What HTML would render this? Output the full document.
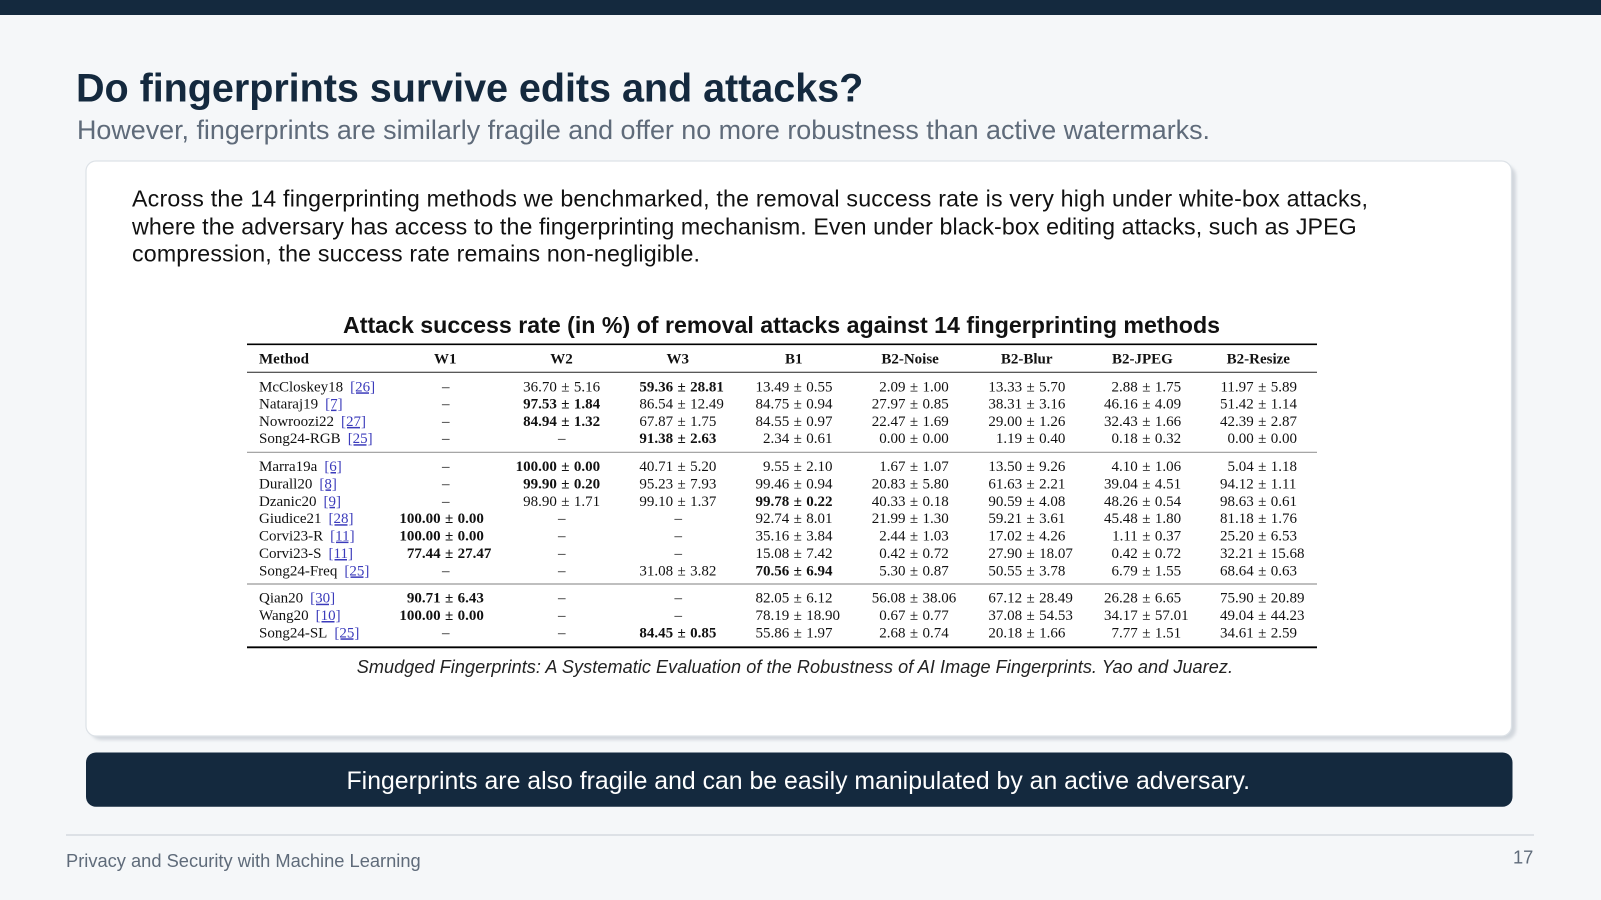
<!DOCTYPE html>
<html><head><meta charset="utf-8"><style>
html,body{margin:0;padding:0;background:#f5f7f9;width:1601px;height:900px;overflow:hidden}
svg{display:block}
.s{font-family:"Liberation Sans",sans-serif}
.t{font-family:"Liberation Serif",serif;font-size:15px;fill:#111}
.e{text-anchor:end}.m{text-anchor:middle}
.b{font-weight:bold}
.c{fill:#3b3bbb;text-decoration:underline}
</style></head><body>
<svg width="1601" height="900" viewBox="0 0 1601 900">
<defs><filter id="sh" x="-5%" y="-5%" width="110%" height="115%"><feGaussianBlur stdDeviation="1.5"/></filter></defs>
<rect x="0" y="0" width="1601" height="900" fill="#f5f7f9"/>
<rect x="0" y="0" width="1601" height="15" fill="#14293e"/>
<g class="s">
<text x="76" y="101.7" font-size="39.6" font-weight="bold" fill="#14293e" textLength="787.3" lengthAdjust="spacing">Do fingerprints survive edits and attacks?</text>
<text x="77" y="139" font-size="26.9" fill="#5f6b7a" textLength="1133" lengthAdjust="spacing">However, fingerprints are similarly fragile and offer no more robustness than active watermarks.</text>
</g>
<rect x="90" y="165" width="1426" height="575" rx="11" fill="#d2d7dd" filter="url(#sh)"/>
<rect x="86" y="161" width="1425.5" height="575" rx="10" fill="#fff" stroke="#dde2e7" stroke-width="1.2"/>
<g class="s" fill="#111" font-size="23.2">
<text x="132" y="206.7" textLength="1236" lengthAdjust="spacing">Across the 14 fingerprinting methods we benchmarked, the removal success rate is very high under white-box attacks,</text>
<text x="132" y="234.3" textLength="1224.7" lengthAdjust="spacing">where the adversary has access to the fingerprinting mechanism. Even under black-box editing attacks, such as JPEG</text>
<text x="132" y="261.7" textLength="568" lengthAdjust="spacing">compression, the success rate remains non-negligible.</text>
<text x="343" y="333" font-size="23.2" font-weight="bold" textLength="877" lengthAdjust="spacing">Attack success rate (in %) of removal attacks against 14 fingerprinting methods</text>
<text x="356.7" y="673" font-size="18.1" font-style="italic" fill="#222" textLength="876.3" lengthAdjust="spacing">Smudged Fingerprints: A Systematic Evaluation of the Robustness of AI Image Fingerprints. Yao and Juarez.</text>
</g>
<line x1="247" x2="1317" y1="344.3" y2="344.3" stroke="#000" stroke-width="1.6"/>
<line x1="247" x2="1317" y1="372.3" y2="372.3" stroke="#222" stroke-width="1"/>
<line x1="247" x2="1317" y1="452.3" y2="452.3" stroke="#999" stroke-width="1.2"/>
<line x1="247" x2="1317" y1="584" y2="584" stroke="#999" stroke-width="1.2"/>
<line x1="247" x2="1317" y1="647.3" y2="647.3" stroke="#000" stroke-width="1.8"/>
<g class="t">
<g transform="translate(0,363.3)" class="b">
<text x="259">Method</text>
<text class="m" x="445.2">W1</text><text class="m" x="561.5">W2</text><text class="m" x="677.7">W3</text><text class="m" x="793.8">B1</text><text class="m" x="910.1">B2-Noise</text><text class="m" x="1026.7">B2-Blur</text><text class="m" x="1142.4">B2-JPEG</text><text class="m" x="1258.3">B2-Resize</text>
</g>

<g transform="translate(0,391.3)">
<text x="259">McCloskey18<tspan class="c" dx="7">[26]</tspan></text>
<text class="m" x="445.7">–</text>
<text class="e" x="556.9">36.70</text><text x="561.3">±<tspan dx="4.4">5.16</tspan></text>
<text class="e b" x="673.1">59.36</text><text class="b" x="677.5">±<tspan dx="4.4">28.81</tspan></text>
<text class="e" x="789.2">13.49</text><text x="793.6">±<tspan dx="4.4">0.55</tspan></text>
<text class="e" x="905.5">2.09</text><text x="909.9">±<tspan dx="4.4">1.00</tspan></text>
<text class="e" x="1022.1">13.33</text><text x="1026.5">±<tspan dx="4.4">5.70</tspan></text>
<text class="e" x="1137.8">2.88</text><text x="1142.2">±<tspan dx="4.4">1.75</tspan></text>
<text class="e" x="1253.7">11.97</text><text x="1258.1">±<tspan dx="4.4">5.89</tspan></text>
</g>
<g transform="translate(0,408.6)">
<text x="259">Nataraj19<tspan class="c" dx="7">[7]</tspan></text>
<text class="m" x="445.7">–</text>
<text class="e b" x="556.9">97.53</text><text class="b" x="561.3">±<tspan dx="4.4">1.84</tspan></text>
<text class="e" x="673.1">86.54</text><text x="677.5">±<tspan dx="4.4">12.49</tspan></text>
<text class="e" x="789.2">84.75</text><text x="793.6">±<tspan dx="4.4">0.94</tspan></text>
<text class="e" x="905.5">27.97</text><text x="909.9">±<tspan dx="4.4">0.85</tspan></text>
<text class="e" x="1022.1">38.31</text><text x="1026.5">±<tspan dx="4.4">3.16</tspan></text>
<text class="e" x="1137.8">46.16</text><text x="1142.2">±<tspan dx="4.4">4.09</tspan></text>
<text class="e" x="1253.7">51.42</text><text x="1258.1">±<tspan dx="4.4">1.14</tspan></text>
</g>
<g transform="translate(0,425.9)">
<text x="259">Nowroozi22<tspan class="c" dx="7">[27]</tspan></text>
<text class="m" x="445.7">–</text>
<text class="e b" x="556.9">84.94</text><text class="b" x="561.3">±<tspan dx="4.4">1.32</tspan></text>
<text class="e" x="673.1">67.87</text><text x="677.5">±<tspan dx="4.4">1.75</tspan></text>
<text class="e" x="789.2">84.55</text><text x="793.6">±<tspan dx="4.4">0.97</tspan></text>
<text class="e" x="905.5">22.47</text><text x="909.9">±<tspan dx="4.4">1.69</tspan></text>
<text class="e" x="1022.1">29.00</text><text x="1026.5">±<tspan dx="4.4">1.26</tspan></text>
<text class="e" x="1137.8">32.43</text><text x="1142.2">±<tspan dx="4.4">1.66</tspan></text>
<text class="e" x="1253.7">42.39</text><text x="1258.1">±<tspan dx="4.4">2.87</tspan></text>
</g>
<g transform="translate(0,443.2)">
<text x="259">Song24-RGB<tspan class="c" dx="7">[25]</tspan></text>
<text class="m" x="445.7">–</text>
<text class="m" x="561.7">–</text>
<text class="e b" x="673.1">91.38</text><text class="b" x="677.5">±<tspan dx="4.4">2.63</tspan></text>
<text class="e" x="789.2">2.34</text><text x="793.6">±<tspan dx="4.4">0.61</tspan></text>
<text class="e" x="905.5">0.00</text><text x="909.9">±<tspan dx="4.4">0.00</tspan></text>
<text class="e" x="1022.1">1.19</text><text x="1026.5">±<tspan dx="4.4">0.40</tspan></text>
<text class="e" x="1137.8">0.18</text><text x="1142.2">±<tspan dx="4.4">0.32</tspan></text>
<text class="e" x="1253.7">0.00</text><text x="1258.1">±<tspan dx="4.4">0.00</tspan></text>
</g>

<g transform="translate(0,471)">
<text x="259">Marra19a<tspan class="c" dx="7">[6]</tspan></text>
<text class="m" x="445.7">–</text>
<text class="e b" x="556.9">100.00</text><text class="b" x="561.3">±<tspan dx="4.4">0.00</tspan></text>
<text class="e" x="673.1">40.71</text><text x="677.5">±<tspan dx="4.4">5.20</tspan></text>
<text class="e" x="789.2">9.55</text><text x="793.6">±<tspan dx="4.4">2.10</tspan></text>
<text class="e" x="905.5">1.67</text><text x="909.9">±<tspan dx="4.4">1.07</tspan></text>
<text class="e" x="1022.1">13.50</text><text x="1026.5">±<tspan dx="4.4">9.26</tspan></text>
<text class="e" x="1137.8">4.10</text><text x="1142.2">±<tspan dx="4.4">1.06</tspan></text>
<text class="e" x="1253.7">5.04</text><text x="1258.1">±<tspan dx="4.4">1.18</tspan></text>
</g>
<g transform="translate(0,488.4)">
<text x="259">Durall20<tspan class="c" dx="7">[8]</tspan></text>
<text class="m" x="445.7">–</text>
<text class="e b" x="556.9">99.90</text><text class="b" x="561.3">±<tspan dx="4.4">0.20</tspan></text>
<text class="e" x="673.1">95.23</text><text x="677.5">±<tspan dx="4.4">7.93</tspan></text>
<text class="e" x="789.2">99.46</text><text x="793.6">±<tspan dx="4.4">0.94</tspan></text>
<text class="e" x="905.5">20.83</text><text x="909.9">±<tspan dx="4.4">5.80</tspan></text>
<text class="e" x="1022.1">61.63</text><text x="1026.5">±<tspan dx="4.4">2.21</tspan></text>
<text class="e" x="1137.8">39.04</text><text x="1142.2">±<tspan dx="4.4">4.51</tspan></text>
<text class="e" x="1253.7">94.12</text><text x="1258.1">±<tspan dx="4.4">1.11</tspan></text>
</g>
<g transform="translate(0,505.8)">
<text x="259">Dzanic20<tspan class="c" dx="7">[9]</tspan></text>
<text class="m" x="445.7">–</text>
<text class="e" x="556.9">98.90</text><text x="561.3">±<tspan dx="4.4">1.71</tspan></text>
<text class="e" x="673.1">99.10</text><text x="677.5">±<tspan dx="4.4">1.37</tspan></text>
<text class="e b" x="789.2">99.78</text><text class="b" x="793.6">±<tspan dx="4.4">0.22</tspan></text>
<text class="e" x="905.5">40.33</text><text x="909.9">±<tspan dx="4.4">0.18</tspan></text>
<text class="e" x="1022.1">90.59</text><text x="1026.5">±<tspan dx="4.4">4.08</tspan></text>
<text class="e" x="1137.8">48.26</text><text x="1142.2">±<tspan dx="4.4">0.54</tspan></text>
<text class="e" x="1253.7">98.63</text><text x="1258.1">±<tspan dx="4.4">0.61</tspan></text>
</g>
<g transform="translate(0,523.2)">
<text x="259">Giudice21<tspan class="c" dx="7">[28]</tspan></text>
<text class="e b" x="440.6">100.00</text><text class="b" x="445">±<tspan dx="4.4">0.00</tspan></text>
<text class="m" x="561.7">–</text>
<text class="m" x="678.3">–</text>
<text class="e" x="789.2">92.74</text><text x="793.6">±<tspan dx="4.4">8.01</tspan></text>
<text class="e" x="905.5">21.99</text><text x="909.9">±<tspan dx="4.4">1.30</tspan></text>
<text class="e" x="1022.1">59.21</text><text x="1026.5">±<tspan dx="4.4">3.61</tspan></text>
<text class="e" x="1137.8">45.48</text><text x="1142.2">±<tspan dx="4.4">1.80</tspan></text>
<text class="e" x="1253.7">81.18</text><text x="1258.1">±<tspan dx="4.4">1.76</tspan></text>
</g>
<g transform="translate(0,540.6)">
<text x="259">Corvi23-R<tspan class="c" dx="7">[11]</tspan></text>
<text class="e b" x="440.6">100.00</text><text class="b" x="445">±<tspan dx="4.4">0.00</tspan></text>
<text class="m" x="561.7">–</text>
<text class="m" x="678.3">–</text>
<text class="e" x="789.2">35.16</text><text x="793.6">±<tspan dx="4.4">3.84</tspan></text>
<text class="e" x="905.5">2.44</text><text x="909.9">±<tspan dx="4.4">1.03</tspan></text>
<text class="e" x="1022.1">17.02</text><text x="1026.5">±<tspan dx="4.4">4.26</tspan></text>
<text class="e" x="1137.8">1.11</text><text x="1142.2">±<tspan dx="4.4">0.37</tspan></text>
<text class="e" x="1253.7">25.20</text><text x="1258.1">±<tspan dx="4.4">6.53</tspan></text>
</g>
<g transform="translate(0,558)">
<text x="259">Corvi23-S<tspan class="c" dx="7">[11]</tspan></text>
<text class="e b" x="440.6">77.44</text><text class="b" x="445">±<tspan dx="4.4">27.47</tspan></text>
<text class="m" x="561.7">–</text>
<text class="m" x="678.3">–</text>
<text class="e" x="789.2">15.08</text><text x="793.6">±<tspan dx="4.4">7.42</tspan></text>
<text class="e" x="905.5">0.42</text><text x="909.9">±<tspan dx="4.4">0.72</tspan></text>
<text class="e" x="1022.1">27.90</text><text x="1026.5">±<tspan dx="4.4">18.07</tspan></text>
<text class="e" x="1137.8">0.42</text><text x="1142.2">±<tspan dx="4.4">0.72</tspan></text>
<text class="e" x="1253.7">32.21</text><text x="1258.1">±<tspan dx="4.4">15.68</tspan></text>
</g>
<g transform="translate(0,575.4)">
<text x="259">Song24-Freq<tspan class="c" dx="7">[25]</tspan></text>
<text class="m" x="445.7">–</text>
<text class="m" x="561.7">–</text>
<text class="e" x="673.1">31.08</text><text x="677.5">±<tspan dx="4.4">3.82</tspan></text>
<text class="e b" x="789.2">70.56</text><text class="b" x="793.6">±<tspan dx="4.4">6.94</tspan></text>
<text class="e" x="905.5">5.30</text><text x="909.9">±<tspan dx="4.4">0.87</tspan></text>
<text class="e" x="1022.1">50.55</text><text x="1026.5">±<tspan dx="4.4">3.78</tspan></text>
<text class="e" x="1137.8">6.79</text><text x="1142.2">±<tspan dx="4.4">1.55</tspan></text>
<text class="e" x="1253.7">68.64</text><text x="1258.1">±<tspan dx="4.4">0.63</tspan></text>
</g>

<g transform="translate(0,602.7)">
<text x="259">Qian20<tspan class="c" dx="7">[30]</tspan></text>
<text class="e b" x="440.6">90.71</text><text class="b" x="445">±<tspan dx="4.4">6.43</tspan></text>
<text class="m" x="561.7">–</text>
<text class="m" x="678.3">–</text>
<text class="e" x="789.2">82.05</text><text x="793.6">±<tspan dx="4.4">6.12</tspan></text>
<text class="e" x="905.5">56.08</text><text x="909.9">±<tspan dx="4.4">38.06</tspan></text>
<text class="e" x="1022.1">67.12</text><text x="1026.5">±<tspan dx="4.4">28.49</tspan></text>
<text class="e" x="1137.8">26.28</text><text x="1142.2">±<tspan dx="4.4">6.65</tspan></text>
<text class="e" x="1253.7">75.90</text><text x="1258.1">±<tspan dx="4.4">20.89</tspan></text>
</g>
<g transform="translate(0,620)">
<text x="259">Wang20<tspan class="c" dx="7">[10]</tspan></text>
<text class="e b" x="440.6">100.00</text><text class="b" x="445">±<tspan dx="4.4">0.00</tspan></text>
<text class="m" x="561.7">–</text>
<text class="m" x="678.3">–</text>
<text class="e" x="789.2">78.19</text><text x="793.6">±<tspan dx="4.4">18.90</tspan></text>
<text class="e" x="905.5">0.67</text><text x="909.9">±<tspan dx="4.4">0.77</tspan></text>
<text class="e" x="1022.1">37.08</text><text x="1026.5">±<tspan dx="4.4">54.53</tspan></text>
<text class="e" x="1137.8">34.17</text><text x="1142.2">±<tspan dx="4.4">57.01</tspan></text>
<text class="e" x="1253.7">49.04</text><text x="1258.1">±<tspan dx="4.4">44.23</tspan></text>
</g>
<g transform="translate(0,637.3)">
<text x="259">Song24-SL<tspan class="c" dx="7">[25]</tspan></text>
<text class="m" x="445.7">–</text>
<text class="m" x="561.7">–</text>
<text class="e b" x="673.1">84.45</text><text class="b" x="677.5">±<tspan dx="4.4">0.85</tspan></text>
<text class="e" x="789.2">55.86</text><text x="793.6">±<tspan dx="4.4">1.97</tspan></text>
<text class="e" x="905.5">2.68</text><text x="909.9">±<tspan dx="4.4">0.74</tspan></text>
<text class="e" x="1022.1">20.18</text><text x="1026.5">±<tspan dx="4.4">1.66</tspan></text>
<text class="e" x="1137.8">7.77</text><text x="1142.2">±<tspan dx="4.4">1.51</tspan></text>
<text class="e" x="1253.7">34.61</text><text x="1258.1">±<tspan dx="4.4">2.59</tspan></text>
</g>
</g>

<rect x="86" y="752.5" width="1426.5" height="54.3" rx="10" fill="#14293e"/>
<g class="s">
<text x="346.5" y="789" font-size="24.8" fill="#ffffff" textLength="903.5" lengthAdjust="spacing">Fingerprints are also fragile and can be easily manipulated by an active adversary.</text>
</g>
<line x1="66" x2="1534" y1="835" y2="835" stroke="#d5dae0" stroke-width="1.5"/>
<g class="s" fill="#5f6b7a">
<text x="66" y="867" font-size="18.3" textLength="354.7" lengthAdjust="spacing">Privacy and Security with Machine Learning</text>
<text x="1533.3" y="863.3" font-size="18.3" text-anchor="end">17</text>
</g>
</svg>
</body></html>
